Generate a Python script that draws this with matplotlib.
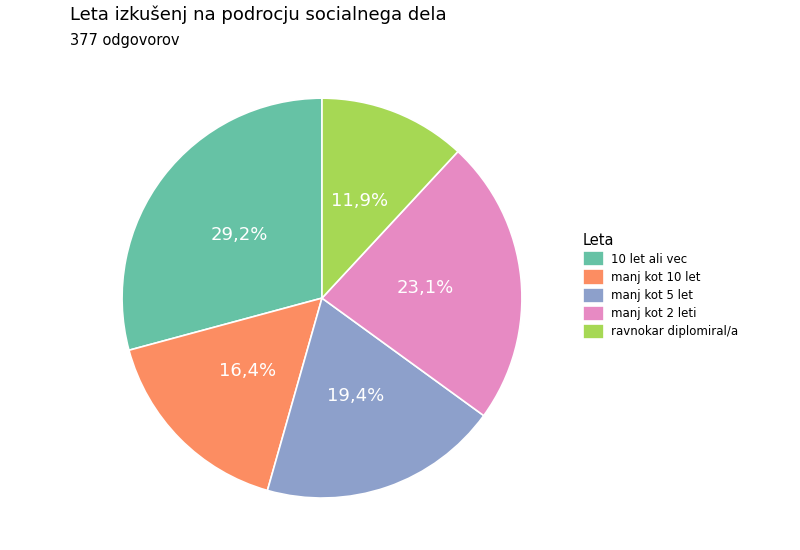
import matplotlib.pyplot as plt

categories = ["10 let ali vec", "manj kot 10 let", "manj kot 5 let", "manj kot 2 leti", "ravnokar diplomiral/a"]
shares = [29.2, 16.4, 19.4, 23.1, 11.9]
colors = ["#66c2a5", "#fc8d62", "#8da0cb", "#e78ac3", "#a6d854"]

fig = plt.figure(figsize=(8, 5.5), dpi=100)
ax = fig.add_axes([0.1525, 0.0945, 0.5, 0.727])

wedges, texts = ax.pie(shares, colors=colors, startangle=90, counterclock=True,
                       labels=[f"{v:.1f}%".replace(".", ",") for v in shares],
                       labeldistance=0.52, radius=1.0,
                       wedgeprops=dict(edgecolor="white", linewidth=1.2),
                       textprops=dict(color="white", fontsize=13))
for t in texts:
    t.set_ha("center")
ax.set_xlim(-1, 1)
ax.set_ylim(-1, 1)
ax.set_aspect("equal")

fig.text(0.0875, 0.973, "Leta izkušenj na podrocju socialnega dela", fontsize=13, ha="left", va="center")
fig.text(0.0875, 0.927, "377 odgovorov", fontsize=10.5, ha="left", va="center")

leg = fig.legend(wedges, categories, title="Leta", loc="upper left",
                 bbox_to_anchor=(0.715, 0.595), frameon=False, fontsize=8.5,
                 title_fontsize=10.5, handlelength=1.8, handleheight=1.6,
                 handletextpad=0.6, labelspacing=0.25)
leg._legend_box.align = "left"

fig.savefig("out.png", dpi=100)
